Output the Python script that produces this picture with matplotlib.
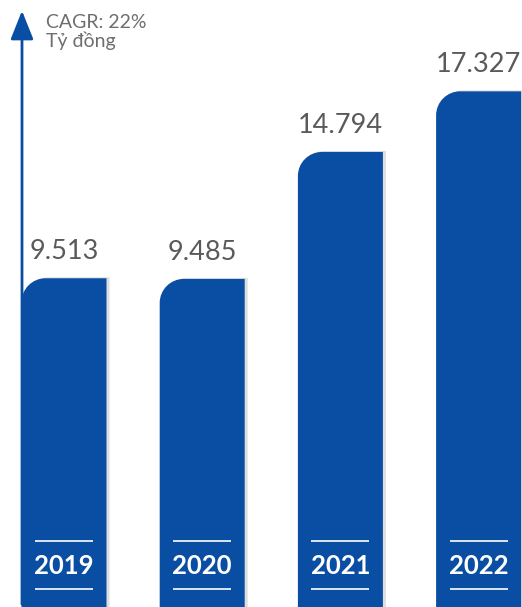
import numpy as np
import matplotlib.pyplot as plt
from matplotlib.path import Path
from matplotlib.patches import PathPatch, FancyArrowPatch

plt.rcParams['font.family'] = ['Lato', 'DejaVu Sans']

years = ['2019', '2020', '2021', '2022']
revenue = [9.513, 9.485, 14.794, 17.327]
value_labels = ['9.513', '9.485', '14.794', '17.327']
unit_lines = ['CAGR: 22%', 'Tỷ đồng']

blue = '#0a4ea4'
grey_txt = '#5a5a5a'

W, H = 522, 607
fig = plt.figure(figsize=(W / 100, H / 100), dpi=100)
ax = fig.add_axes([0, 0, 1, 1])

# scale: bars start at the bottom of the y range, not at zero
y_lo = -4.23
px_per_unit = 23.92
x_step = 138.2
x_first = 64.0
ax.set_xlim(-x_first / x_step, (W - x_first) / x_step)
ax.set_ylim(y_lo, y_lo + H / px_per_unit)
ax.axis('off')

bar_w = 85 / x_step
rx = 24 / x_step
ry = 24 / px_per_unit
k = 0.5523


def bar_path(x0, x1, y0, y1):
    verts = [(x0, y0), (x0, y1 - ry),
             (x0, y1 - ry + k * ry), (x0 + rx - k * rx, y1), (x0 + rx, y1),
             (x1, y1), (x1, y0), (x0, y0)]
    codes = [Path.MOVETO, Path.LINETO,
             Path.CURVE4, Path.CURVE4, Path.CURVE4,
             Path.LINETO, Path.LINETO, Path.CLOSEPOLY]
    return Path(verts, codes)


# axis arrow on the left
ax.add_patch(FancyArrowPatch((22 / W, 0.0), (22 / W, (H - 8) / H),
                             transform=ax.transAxes, arrowstyle='-|>,head_length=8,head_width=3.2',
                             mutation_scale=2.2, lw=2, color=blue, zorder=1))

for i, (yr, v, lab) in enumerate(zip(years, revenue, value_labels)):
    x0 = i - bar_w / 2
    x1 = i + bar_w / 2
    # soft shadow on the right edge
    sx = 3 / x_step
    sy = 1 / px_per_unit
    ax.add_patch(PathPatch(bar_path(x0 + sx, x1 + sx, y_lo, v + sy),
                           facecolor='#dedede', edgecolor='none', zorder=2))
    ax.add_patch(PathPatch(bar_path(x0, x1, y_lo, v),
                           facecolor=blue, edgecolor='none', zorder=3))
    ax.annotate(lab, (i, v), xytext=(0, 10), textcoords='offset points',
                ha='center', va='bottom', fontsize=19.5, color=grey_txt)
    # year label framed by two thin white rules
    yr_y = y_lo + (H - 566) / px_per_unit
    ax.text(i, yr_y, yr, ha='center', va='center', fontsize=18.5,
            fontweight='bold', color='white', zorder=4)
    for dy in (25, -23):
        ly = yr_y + dy / px_per_unit
        ax.plot([i - 29 / x_step, i + 29 / x_step], [ly, ly], color='white',
                lw=1.2, zorder=4, solid_capstyle='butt')

ax.text(46 / W, 1 - 14 / H, '\n'.join(unit_lines), transform=ax.transAxes,
        ha='left', va='top', fontsize=14, color='#6e6e6e', linespacing=1.05)

fig.savefig('out.png', dpi=100)
